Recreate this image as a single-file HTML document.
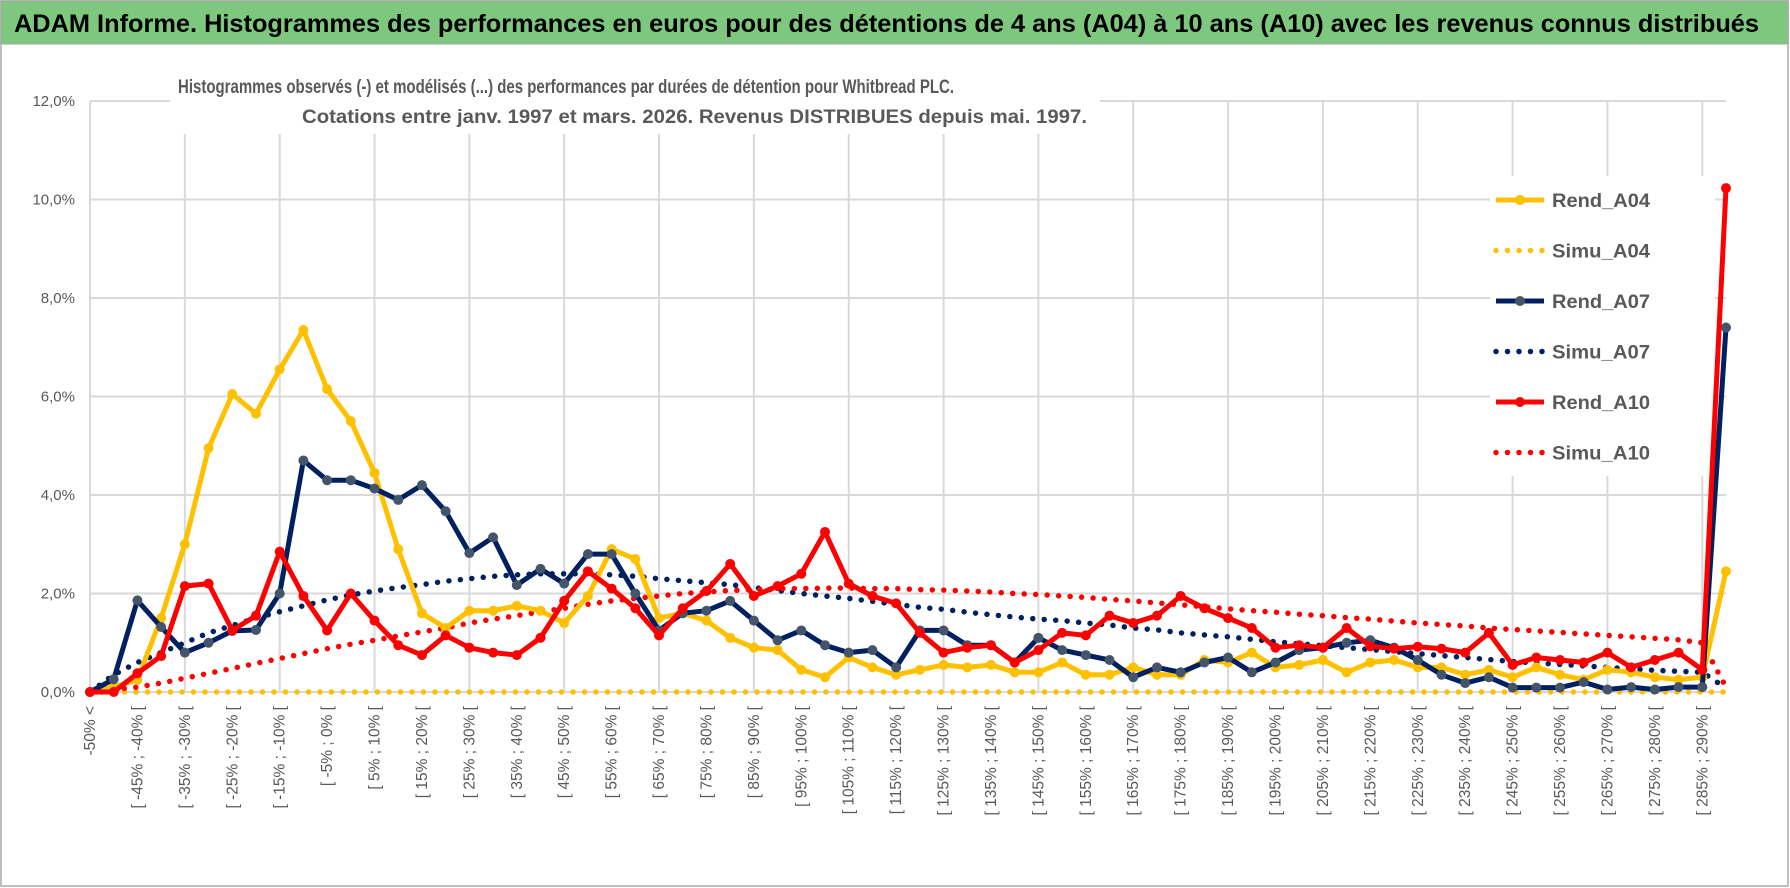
<!DOCTYPE html>
<html><head><meta charset="utf-8"><style>
html,body{margin:0;padding:0;background:#fff;}
svg{display:block;font-family:"Liberation Sans",sans-serif;}
</style></head><body>
<svg id="chart" width="1790" height="888" viewBox="0 0 1790 888">
<rect x="0" y="0" width="1790" height="888" fill="#fff"/>
<rect x="1" y="1" width="1787" height="885" fill="none" stroke="#bfbfbf" stroke-width="2"/>
<rect x="1" y="1" width="1787" height="43" fill="#7dc77f" stroke="#a6a6a6"/>
<text x="14" y="32" font-size="25" font-weight="bold" fill="#000" textLength="1745" lengthAdjust="spacingAndGlyphs">ADAM Informe. Histogrammes des performances en euros pour des détentions de 4 ans (A04) à 10 ans (A10) avec les revenus connus distribués</text>
<g id="grid"></g>
<rect x="170" y="64" width="930" height="70" fill="#fff"/>
<rect x="1490" y="176" width="225" height="300" fill="#fff"/>
<g id="series"></g>
<g id="yaxis"></g>
<g id="xaxis"></g>
<text x="178" y="93" font-size="19.5" font-weight="bold" fill="#595959" textLength="776" lengthAdjust="spacingAndGlyphs">Histogrammes observés (-) et modélisés (...) des performances par durées de détention pour Whitbread PLC.</text>
<text x="302" y="123" font-size="19.5" font-weight="bold" fill="#595959" textLength="785" lengthAdjust="spacingAndGlyphs">Cotations entre janv. 1997 et mars. 2026. Revenus DISTRIBUES depuis mai. 1997.</text>
<g id="legend"></g>
</svg>
<script>
const categoryCount = 70;
const yTicks = [0, 2, 4, 6, 8, 10, 12];
const yTickLabels = ["0,0%", "2,0%", "4,0%", "6,0%", "8,0%", "10,0%", "12,0%"];
const rendA04 = [0,0.1,0.25,1.5,3.0,4.95,6.05,5.65,6.55,7.35,6.15,5.5,4.45,2.9,1.6,1.3,1.65,1.65,1.75,1.65,1.4,1.95,2.9,2.7,1.5,1.6,1.45,1.1,0.9,0.85,0.45,0.3,0.7,0.5,0.35,0.45,0.55,0.5,0.55,0.4,0.4,0.6,0.35,0.35,0.5,0.35,0.35,0.65,0.6,0.8,0.5,0.55,0.65,0.4,0.6,0.65,0.5,0.5,0.35,0.45,0.3,0.5,0.35,0.25,0.45,0.4,0.3,0.25,0.3,2.45];
const simuA04 = [0,0,0,0,0,0,0,0,0,0,0,0,0,0,0,0,0,0,0,0,0,0,0,0,0,0,0,0,0,0,0,0,0,0,0,0,0,0,0,0,0,0,0,0,0,0,0,0,0,0,0,0,0,0,0,0,0,0,0,0,0,0,0,0,0,0,0,0,0,0];
const rendA07 = [0,0.26,1.86,1.32,0.8,1.0,1.24,1.26,2.0,4.7,4.3,4.3,4.13,3.9,4.2,3.67,2.82,3.14,2.17,2.5,2.2,2.8,2.8,2.0,1.25,1.6,1.65,1.85,1.45,1.05,1.25,0.95,0.8,0.85,0.5,1.25,1.25,0.95,0.95,0.6,1.1,0.85,0.75,0.65,0.3,0.5,0.4,0.6,0.7,0.4,0.6,0.85,0.9,1.0,1.05,0.9,0.65,0.35,0.18,0.3,0.09,0.09,0.09,0.2,0.05,0.1,0.05,0.1,0.1,7.4];
const simuA07 = [0,0.35,0.6,0.8,1.0,1.2,1.35,1.5,1.63,1.75,1.87,1.97,2.05,2.12,2.18,2.25,2.3,2.35,2.38,2.4,2.4,2.4,2.38,2.35,2.3,2.26,2.22,2.18,2.12,2.06,2.0,1.95,1.9,1.84,1.78,1.72,1.68,1.62,1.57,1.52,1.48,1.45,1.4,1.36,1.3,1.26,1.2,1.16,1.12,1.07,1.02,0.98,0.94,0.9,0.86,0.82,0.78,0.74,0.7,0.66,0.62,0.59,0.56,0.53,0.5,0.47,0.44,0.42,0.4,0.08];
const rendA10 = [0,0,0.38,0.73,2.15,2.2,1.25,1.55,2.85,1.95,1.25,2.0,1.45,0.95,0.75,1.15,0.9,0.8,0.75,1.1,1.85,2.45,2.1,1.7,1.15,1.7,2.05,2.6,1.95,2.15,2.4,3.25,2.2,1.95,1.8,1.2,0.8,0.9,0.95,0.6,0.85,1.2,1.15,1.55,1.4,1.55,1.95,1.7,1.5,1.3,0.9,0.95,0.9,1.3,0.93,0.88,0.92,0.88,0.8,1.2,0.55,0.7,0.65,0.6,0.8,0.5,0.65,0.8,0.45,10.23];
const simuA10 = [0,0.05,0.1,0.18,0.28,0.38,0.48,0.58,0.68,0.78,0.88,0.97,1.05,1.14,1.22,1.3,1.4,1.48,1.55,1.63,1.7,1.78,1.85,1.9,1.95,2.0,2.03,2.06,2.08,2.1,2.1,2.11,2.11,2.1,2.1,2.08,2.07,2.05,2.03,2.0,1.98,1.95,1.92,1.88,1.85,1.81,1.77,1.73,1.69,1.65,1.62,1.58,1.55,1.51,1.48,1.44,1.4,1.37,1.34,1.3,1.27,1.24,1.21,1.18,1.15,1.12,1.09,1.06,1.0,0.1];

const NS = "http://www.w3.org/2000/svg";
const X0 = 90, X1 = 1726, Y0 = 692, YTOP = 101, YMAX = 12;
function xPos(i){ return X0 + (X1 - X0) * i / (categoryCount - 1); }
function yPos(v){ return Y0 - (Y0 - YTOP) * v / YMAX; }
function mk(tag, attrs, parent){ const e = document.createElementNS(NS, tag); for (const k in attrs) e.setAttribute(k, attrs[k]); parent.appendChild(e); return e; }
function catLabel(i){ if (i === 0) return "-50% <"; const lo = -55 + 5*i; return "[ " + lo + "% ; " + (lo+5) + "% ["; }

const grid = document.getElementById("grid");
yTicks.forEach(t => {
  const l = mk("line", {x1:X0, x2:X1, y1:yPos(t), y2:yPos(t), stroke:"#d9d9d9", "stroke-width":2}, grid);
  
  
});
for (let i = 0; i < categoryCount; i += 4) {
  const l = mk("line", {x1:xPos(i), x2:xPos(i), y1:YTOP, y2:Y0, stroke:"#d9d9d9", "stroke-width":2}, grid);
  
  
}
const yaxis = document.getElementById("yaxis");
yTicks.forEach((t, k) => {
  const tx = mk("text", {x:75, y:yPos(t)+5, "text-anchor":"end", "font-size":15, fill:"#595959"}, yaxis);
  tx.textContent = yTickLabels[k];
  
  
});
const xaxis = document.getElementById("xaxis");
for (let i = 0; i < categoryCount; i += 2) {
  const x = xPos(i) + 5, y = 706;
  const tx = mk("text", {x:x, y:y, "text-anchor":"end", "font-size":15.5, fill:"#595959", transform:"rotate(-90 " + x + " " + y + ")"}, xaxis);
  tx.textContent = catLabel(i);
  
  
}

const seriesG = document.getElementById("series");
function drawDotted(vals, color, name){
  const pts = vals.map((v,i) => xPos(i).toFixed(1) + "," + yPos(v).toFixed(1)).join(" ");
  const p = mk("polyline", {points:pts, fill:"none", stroke:color, "stroke-width":5.5, "stroke-linecap":"round", "stroke-dasharray":"0 11.5"}, seriesG);
  
  
}
function drawSolid(vals, color, markerColor, name){
  const pts = vals.map((v,i) => xPos(i).toFixed(1) + "," + yPos(v).toFixed(1)).join(" ");
  const p = mk("polyline", {points:pts, fill:"none", stroke:color, "stroke-width":5, "stroke-linejoin":"round"}, seriesG);
  
  
  vals.forEach((v,i) => {
    const c = mk("circle", {cx:xPos(i), cy:yPos(v), r:5, fill:markerColor}, seriesG);
    
    
  });
}
drawDotted(simuA04, "#ffc000", "simu-a04-line");
drawDotted(simuA07, "#002060", "simu-a07-line");
drawDotted(simuA10, "#ff0000", "simu-a10-line");
drawSolid(rendA04, "#ffc000", "#ffc000", "rend-a04-line");
drawSolid(rendA07, "#002060", "#44546a", "rend-a07-line");
drawSolid(rendA10, "#ff0000", "#ff0000", "rend-a10-line");

const legend = document.getElementById("legend");
const legendNames = ["Rend_A04","Simu_A04","Rend_A07","Simu_A07","Rend_A10","Simu_A10"];
const legendColors = ["#ffc000","#ffc000","#002060","#002060","#ff0000","#ff0000"];
const legendMarker = ["#ffc000",null,"#44546a",null,"#ff0000",null];
legendNames.forEach((n,k) => {
  const y = 200 + k*50.5;
  if (legendMarker[k]) {
    const l = mk("line", {x1:1496, x2:1544, y1:y, y2:y, stroke:legendColors[k], "stroke-width":5}, legend);
    
    
    const c = mk("circle", {cx:1520, cy:y, r:5, fill:legendMarker[k]}, legend);
    
    
  } else {
    const l = mk("line", {x1:1496, x2:1544, y1:y, y2:y, stroke:legendColors[k], "stroke-width":5.5, "stroke-linecap":"round", "stroke-dasharray":"0 11.5"}, legend);
    
    
  }
  const t = mk("text", {x:1552, y:y+7, "font-size":19.5, "font-weight":"bold", fill:"#595959", textLength:98, lengthAdjust:"spacingAndGlyphs"}, legend);
  t.textContent = n;
  
  
});
</script>
</body></html>
